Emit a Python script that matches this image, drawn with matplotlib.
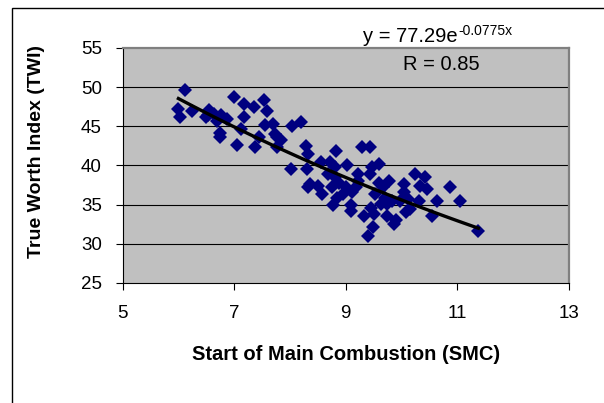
import numpy as np
from matplotlib import pyplot as plt
from matplotlib.patches import Rectangle

# SMC vs TWI readings
smc = [6.00, 6.03, 6.12, 6.24, 6.50, 6.55, 6.64, 6.70, 6.77, 6.75, 6.75, 6.88,
       7.00, 7.05, 7.12, 7.18, 7.17, 7.36, 7.37, 7.44, 7.53, 7.58, 7.55, 7.70,
       7.74, 7.77, 7.84, 8.03, 8.20, 8.02, 8.29, 8.33, 8.30, 8.33, 8.36, 8.55,
       8.58, 8.69, 8.71, 8.75, 8.78, 8.83, 8.81, 8.84, 8.88, 9.00, 9.02, 9.09,
       9.10, 9.12, 9.19, 9.22, 9.29, 9.33, 9.40, 9.44, 9.43, 9.47, 9.49, 9.50,
       9.53, 9.60, 9.60, 9.64, 9.67, 9.74, 9.74, 9.78, 9.84, 9.86, 9.91, 9.98,
       10.04, 10.05, 10.09, 10.16, 10.25, 10.31, 10.33, 10.42, 10.45, 10.55,
       10.64, 10.88, 11.05, 11.38, 9.22, 8.95, 9.46, 9.70, 10.12, 8.50, 7.77,
       6.53, 8.81]
twi = [47.2, 46.2, 49.6, 46.9, 46.2, 47.1, 46.6, 45.7, 46.4, 44.2, 43.6, 45.9,
       48.8, 42.6, 44.7, 46.2, 47.9, 47.5, 42.3, 43.6, 48.3, 47.0, 45.2, 45.3,
       44.0, 42.3, 43.2, 45.0, 45.5, 39.6, 42.5, 41.5, 39.6, 37.2, 37.7, 40.4,
       36.4, 38.9, 40.4, 37.2, 35.0, 41.9, 39.8, 35.9, 37.8, 37.2, 40.1, 35.0,
       34.2, 36.6, 37.2, 38.9, 42.3, 33.6, 31.0, 42.3, 38.9, 39.8, 32.1, 33.8,
       36.3, 40.2, 37.8, 35.1, 37.2, 35.1, 33.6, 38.0, 35.5, 32.5, 33.1, 35.5,
       37.6, 36.6, 34.0, 34.4, 38.9, 35.5, 37.4, 38.5, 37.0, 33.6, 35.5, 37.3,
       35.5, 31.65, 38.0, 36.3, 34.6, 35.9, 35.7, 37.4, 43.7, 46.4, 38.5]

# exponential trendline y = a*exp(b*x)
fit_a = 77.29
fit_b = -0.0775
fit_r = 0.85

xticks = [5, 7, 9, 11, 13]
yticks = [25, 30, 35, 40, 45, 50, 55]

plt.rcParams['font.family'] = ['Liberation Sans', 'DejaVu Sans']

fig = plt.figure(figsize=(6.04, 4.03), dpi=100)
# outer chart frame (right/bottom edges fall outside the picture)
fig.patches.append(Rectangle((12 / 604, -0.1), 1.2, 1 - 8 / 403 + 0.1,
                             transform=fig.transFigure, fill=False,
                             edgecolor='black', linewidth=1.0))

ax = fig.add_axes([0.2031, 0.2978, 0.7384, 0.5831])
ax.set_facecolor('#c0c0c0')

for g in yticks[1:-1]:
    ax.axhline(g, color='black', linewidth=0.8, zorder=1)

ax.plot(smc, twi, linestyle='none', marker='D', markersize=6.8,
        color='#000080', markeredgewidth=0, zorder=2)

xs = np.linspace(min(smc), max(smc), 100)
ax.plot(xs, fit_a * np.exp(fit_b * xs), color='black', linewidth=2.4, zorder=3)

ax.set_xlim(5, 13)
ax.set_ylim(25, 55)
ax.set_xticks(xticks)
ax.set_yticks(yticks)
ax.tick_params(axis='both', labelsize=13.5, length=5, width=0.8, color='black',
               direction='out')
ax.tick_params(axis='x', pad=11)
ax.tick_params(axis='y', pad=10)

for side in ['left', 'bottom']:
    ax.spines[side].set_color('black')
    ax.spines[side].set_linewidth(0.8)
for side in ['top', 'right']:
    ax.spines[side].set_color('#808080')
    ax.spines[side].set_linewidth(1.6)

ax.set_xlabel('Start of Main Combustion (SMC)', fontsize=14.5, fontweight='bold')
ax.xaxis.set_label_coords(0.5, -0.265)
ax.set_ylabel('True Worth Index (TWI)', fontsize=14, fontweight='bold')
ax.yaxis.set_label_coords(-0.175, 0.56)

# trendline equation with a hand-made superscript (keeps the plain hyphen)
eq = fig.text(363 / 604, 1 - 42 / 403, f'y = {fit_a}e', fontsize=14.5,
              ha='left', va='baseline')
ax.annotate(f'{fit_b}x', xy=(1, 0), xycoords=eq, xytext=(1, 11),
            textcoords='offset pixels', fontsize=10, ha='left', va='baseline')
fig.text(441 / 604, 1 - 65 / 403, f'R = {fit_r}', fontsize=14.5,
         ha='center', va='center')

fig.savefig('out.png', dpi=100)
